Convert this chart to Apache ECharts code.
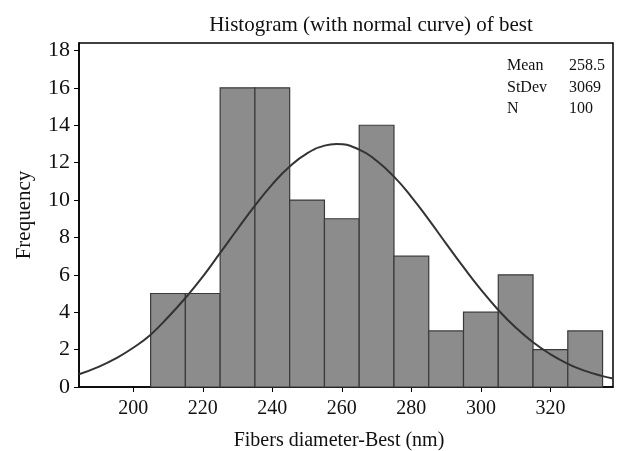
<!DOCTYPE html>
<html>
<head>
<meta charset="utf-8">
<script src="https://cdn.jsdelivr.net/npm/echarts@6/dist/echarts.min.js"></script>
<style>
    html, body { margin: 0; padding: 0; background: #fff; }
    #chart { width: 618px; height: 451px; }
</style>
</head>
<body>
<div id="chart"></div>
<script>
    // histogram bins (nm) and counts
    var binStart = [205, 215, 225, 235, 245, 255, 265, 275, 285, 295, 305, 315, 325]
    var binEnd = [215, 225, 235, 245, 255, 265, 275, 285, 295, 305, 315, 325, 335]
    var counts = [5, 5, 16, 16, 10, 9, 14, 7, 3, 4, 6, 2, 3]

    // normal curve
    var curveX = [184.4, 190, 195, 200, 205, 210, 215, 220, 225, 230, 235, 240, 245, 250, 255, 258.5, 265, 270, 275, 280, 285, 290, 295, 300, 305, 310, 315, 320, 325, 330, 335, 338]
    var curveY = [0.68, 1.08, 1.53, 2.1, 2.8, 3.73, 4.76, 5.9, 7.17, 8.45, 9.7, 10.84, 11.8, 12.5, 12.91, 13.0, 12.7, 12.1, 11.25, 10.17, 8.95, 7.67, 6.41, 5.21, 4.12, 3.18, 2.39, 1.75, 1.24, 0.86, 0.58, 0.45]

    var xTicks = [200, 220, 240, 260, 280, 300, 320]
    var yTicks = [0, 2, 4, 6, 8, 10, 12, 14, 16, 18]

    var statNames = ['Mean', 'StDev', 'N']
    var statValues = ['258.5', '3069', '100']

    var font = 'Liberation Serif'

    var binData = []
    for (var i = 0; i < counts.length; i++) {
        binData.push([binStart[i], binEnd[i], counts[i]])
    }
    var curveData = []
    for (var j = 0; j < curveX.length; j++) {
        curveData.push([curveX[j], curveY[j]])
    }

    var statGraphics = []
    for (var k = 0; k < statNames.length; k++) {
        statGraphics.push({
            type: 'text', left: 507, top: 58 + k * 21.5,
            style: { text: statNames[k], font: '16px "' + font + '"', fill: '#111' }
        })
        statGraphics.push({
            type: 'text', left: 569, top: 58 + k * 21.5,
            style: { text: statValues[k], font: '16px "' + font + '"', fill: '#111' }
        })
    }

    var chart = echarts.init(document.getElementById('chart'))
    chart.setOption({
        animation: false,
        backgroundColor: '#fff',
        textStyle: { fontFamily: font },
        title: {
            text: 'Histogram (with normal curve) of best',
            left: 366, top: 10, textAlign: 'center',
            textStyle: { fontFamily: font, fontSize: 21, fontWeight: 'normal', color: '#111' }
        },
        grid: {
            left: 79, top: 43, right: 5, bottom: 64,
            outerBoundsMode: 'none',
            show: true, borderColor: '#000', borderWidth: 1.5
        },
        graphic: statGraphics,
        xAxis: {
            type: 'value', min: 184.4, max: 338,
            name: 'Fibers diameter-Best (nm)', nameLocation: 'middle', nameGap: 44,
            nameTextStyle: { fontFamily: font, fontSize: 20, color: '#111', padding: [0, 14, 0, 0] },
            axisLine: { lineStyle: { color: '#000', width: 1.5 } },
            axisTick: { show: true, customValues: xTicks, length: 5, lineStyle: { color: '#000' } },
            axisLabel: { customValues: xTicks, fontFamily: font, fontSize: 20, color: '#111', margin: 12 },
            splitLine: { show: false }
        },
        yAxis: {
            type: 'value', min: 0, max: 18.4,
            name: 'Frequency', nameLocation: 'middle', nameGap: 44,
            nameTextStyle: { fontFamily: font, fontSize: 21, color: '#111' },
            axisLine: { show: true, lineStyle: { color: '#000', width: 1.5 } },
            axisTick: { show: true, customValues: yTicks, length: 5, lineStyle: { color: '#000' } },
            axisLabel: { customValues: yTicks, fontFamily: font, fontSize: 22, color: '#111', margin: 9 },
            splitLine: { show: false }
        },
        series: [
            {
                type: 'custom',
                data: binData,
                encode: { x: [0, 1], y: 2 },
                renderItem: function (params, api) {
                    var p0 = api.coord([api.value(0), 0])
                    var p1 = api.coord([api.value(1), api.value(2)])
                    return {
                        type: 'rect',
                        shape: { x: p0[0], y: p1[1], width: p1[0] - p0[0], height: p0[1] - p1[1] },
                        style: { fill: '#8c8c8c', stroke: '#3a3a3a', lineWidth: 1.2 }
                    }
                }
            },
            {
                type: 'line',
                data: curveData,
                smooth: true,
                symbol: 'none',
                lineStyle: { color: '#333', width: 2 },
                z: 5
            }
        ]
    })
</script>
</body>
</html>
